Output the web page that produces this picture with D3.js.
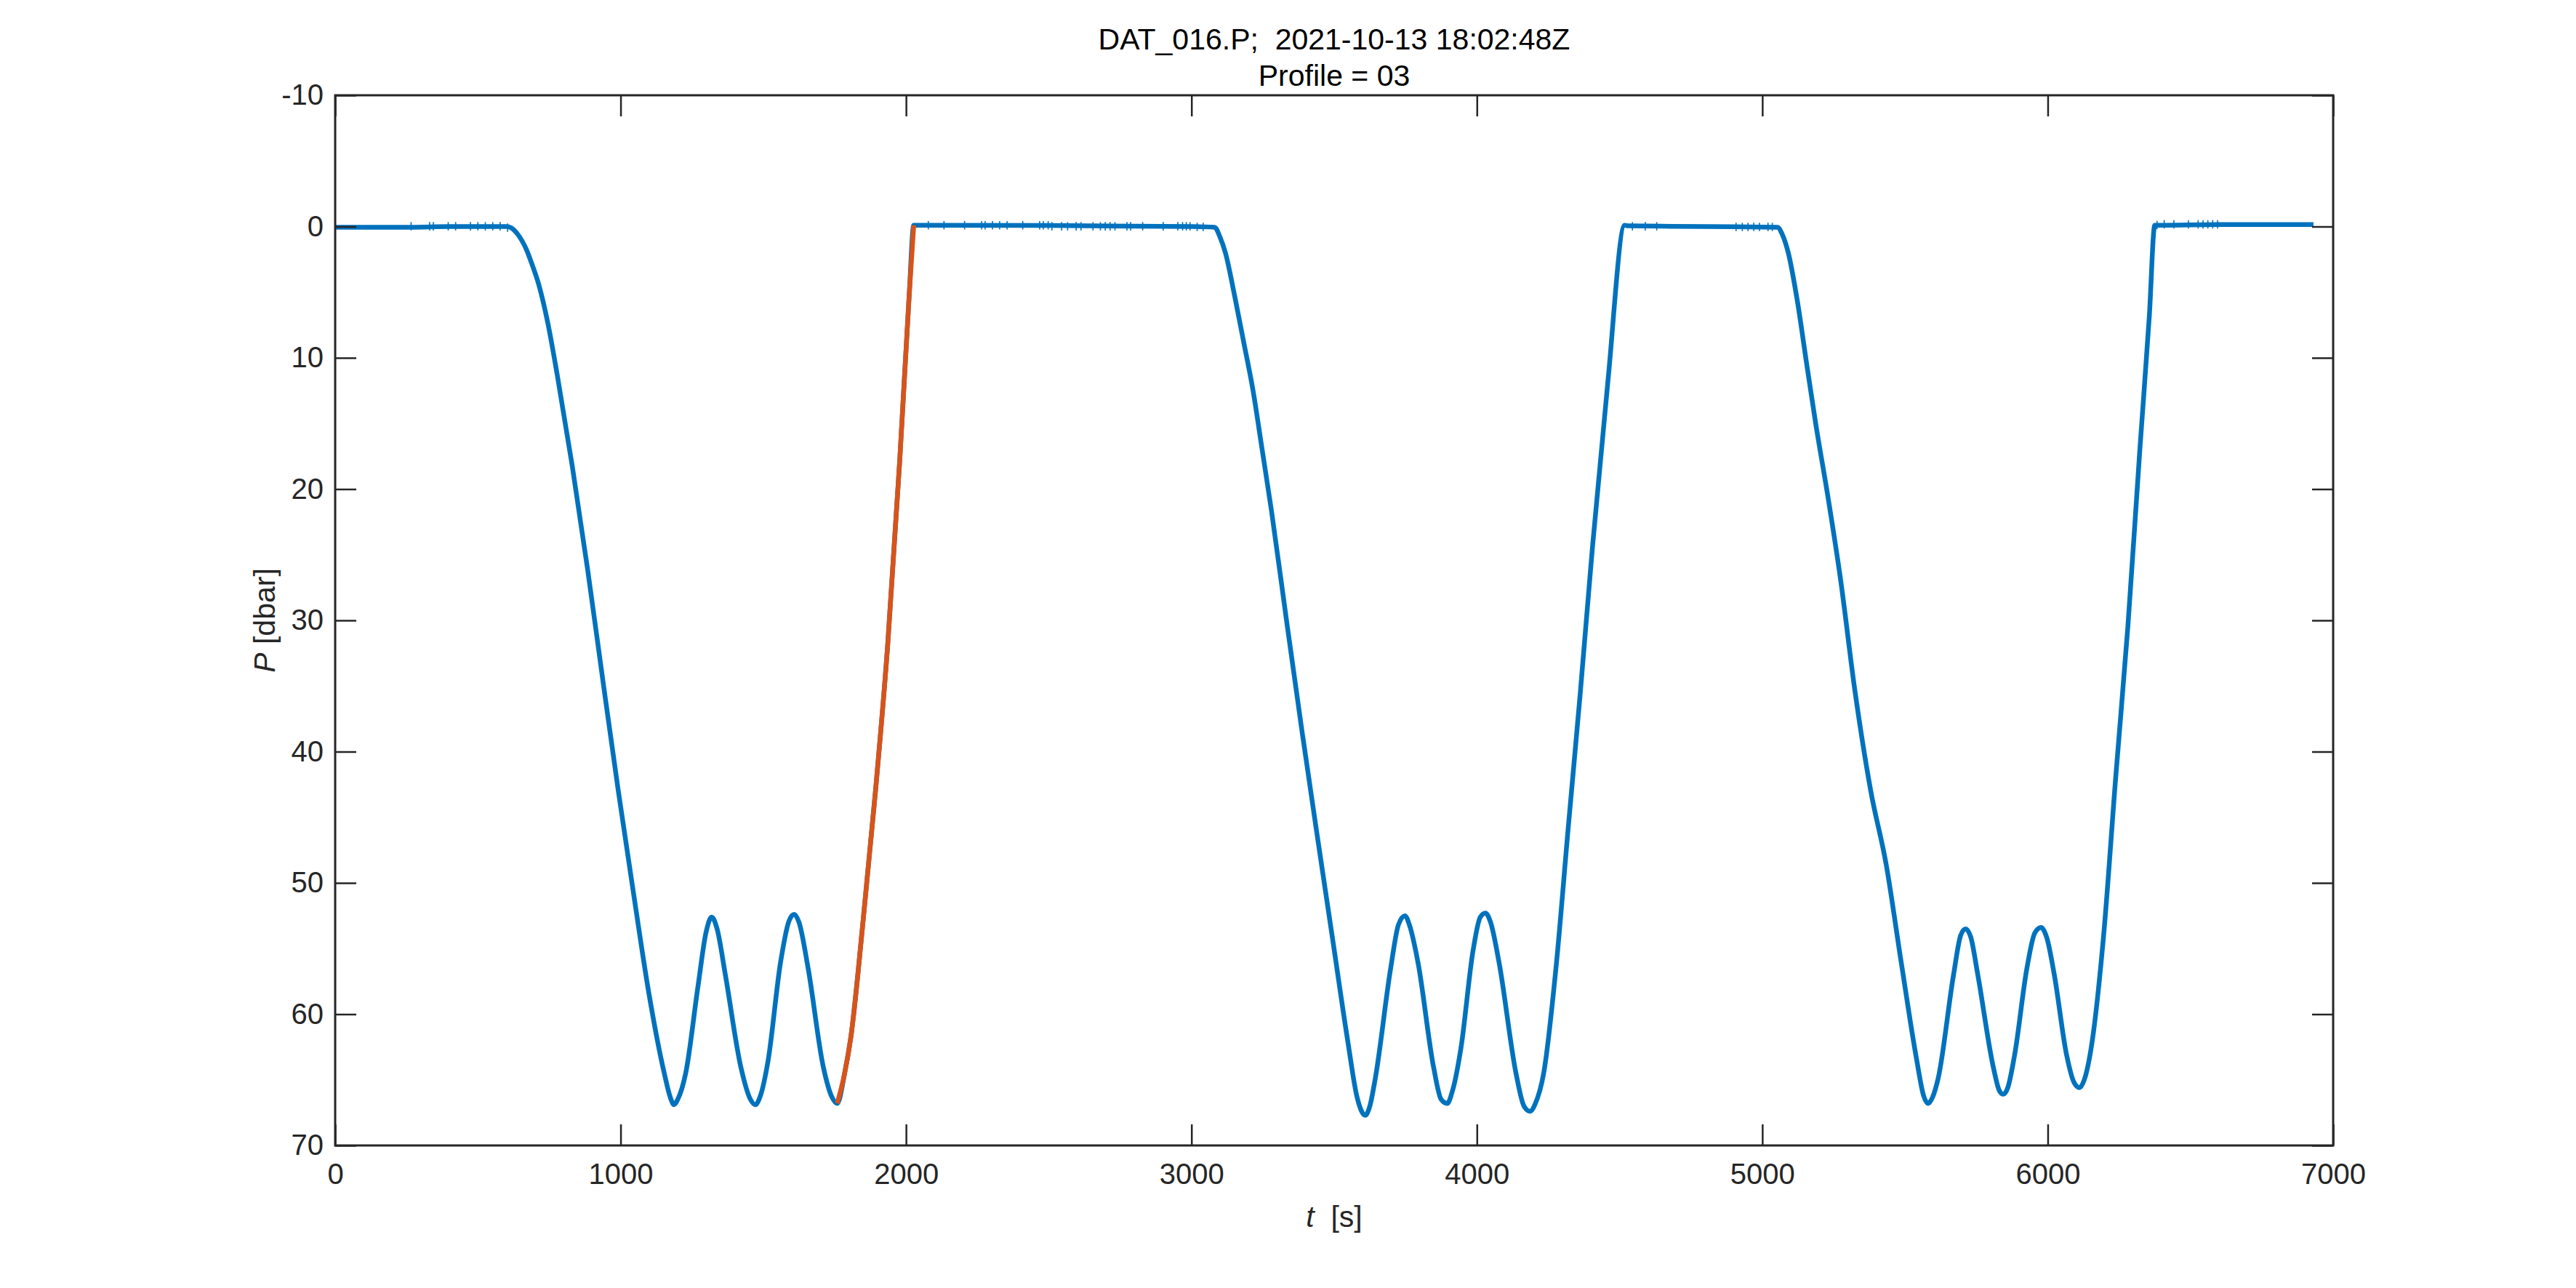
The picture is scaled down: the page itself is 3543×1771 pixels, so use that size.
<!DOCTYPE html>
<html>
<head>
<meta charset="utf-8">
<script src="https://cdn.jsdelivr.net/npm/d3@7"></script>
<style>
    body { margin: 0; background: #fff; }
    svg text { font-family: "Liberation Sans", Arial, Helvetica, sans-serif; white-space: pre; }
</style>
</head>
<body>
<script>
//time axis values [s]
var tValues = [
    0, 265, 400, 600, 617, 640, 670, 690, 713, 745, 778, 831, 885, 938, 992, 1046, 1099, 1153, 1175, 1187,
    1200, 1228, 1271, 1300, 1319, 1338, 1367, 1421, 1455, 1472, 1490, 1517, 1560, 1590, 1608, 1625, 1657,
    1710, 1740, 1759, 1785, 1807, 1850, 1893, 1936, 1978, 2011, 2027,
    2040, 2500, 3000, 3081, 3100, 3119, 3151, 3183, 3215, 3247, 3280, 3333, 3387, 3440, 3494, 3548, 3580,
    3609, 3625, 3644, 3698, 3725, 3748, 3765, 3794, 3848, 3875, 3896, 3915, 3944, 3987, 4012, 4030, 4048,
    4078, 4137, 4165, 4186, 4205, 4234, 4277, 4320, 4362, 4405, 4459, 4518,
    4530, 4800, 5053, 5070, 5091, 5123, 5155, 5187, 5230, 5273, 5326, 5380, 5434, 5487, 5541, 5565, 5581,
    5597, 5616, 5670, 5695, 5712, 5730, 5755, 5809, 5830, 5844, 5860, 5884, 5927, 5955, 5977, 5997, 6023,
    6066, 6092, 6111, 6128, 6152, 6195, 6238, 6281, 6323, 6356, 6375,
    6390, 6600, 6931
];

//pressure values [dbar], one per time value
var pValues = [
    0.05, 0.05, 0.0, 0.0, 0.1, 0.6, 1.75, 2.9, 4.4, 7.35, 11.3, 18.3, 26.2, 34.6, 43.0, 50.9, 58.4, 64.5, 66.4, 66.9,
    66.5, 64.5, 57.9, 53.7, 52.6, 53.5, 57.0, 64.0, 66.5, 66.9, 66.2, 63.5, 56.1, 52.9, 52.4, 53.0, 56.5,
    64.0, 66.3, 66.8, 64.5, 61.7, 52.8, 43.0, 31.8, 17.8, 5.25, -0.1,
    -0.1, -0.08, 0.0, 0.05, 0.8, 2.0, 5.25, 8.8, 12.4, 16.9, 21.6, 30.0, 38.4, 46.3, 54.2, 62.1, 66.3,
    67.7, 67.0, 64.9, 56.5, 53.2, 52.5, 53.3, 56.1, 64.0, 66.5, 66.8, 65.8, 62.6, 55.1, 52.6, 52.3, 53.0,
    56.1, 64.5, 67.0, 67.4, 66.8, 64.5, 56.5, 45.8, 35.6, 24.4, 11.8, -0.1,
    -0.05, 0.0, 0.05, 0.6, 2.0, 5.7, 10.4, 15.0, 20.6, 26.7, 35.6, 43.0, 48.6, 56.1, 63.5, 66.2, 66.8,
    66.3, 64.9, 57.0, 54.0, 53.5, 54.1, 57.0, 64.0, 65.8, 66.1, 65.6, 63.1, 56.5, 53.8, 53.4, 54.2, 57.0,
    63.1, 65.2, 65.6, 65.0, 62.6, 54.2, 42.0, 30.4, 16.9, 6.8, -0.1,
    -0.1, -0.15, -0.15
];

//times of the small noise spikes on the surface stretches [s]
var spikeTimes = [
    266, 331, 344, 396, 422, 474, 500, 526, 552, 578, 604,
    2078, 2133, 2205, 2265, 2277, 2303, 2328, 2354, 2409, 2468, 2481, 2498, 2511, 2545, 2566, 2596,
    2613, 2655, 2681, 2698, 2715, 2732, 2774, 2787, 2829, 2901, 2952, 2969, 2982, 2995, 3020, 3041,
    4545, 4590, 4630, 4908, 4930, 4950, 4970, 4990, 5020, 5035,
    6383, 6408, 6442, 6493, 6527, 6544, 6561, 6578, 6595
];

//highlighted profile (ascent) time window [s]
var profileStart = 1759, profileEnd = 2027;

//tick values
var xTicks = [0, 1000, 2000, 3000, 4000, 5000, 6000, 7000];
var yTicks = [-10, 0, 10, 20, 30, 40, 50, 60, 70];

var titleLines = ["DAT_016.P;  2021-10-13 18:02:48Z", "Profile = 03"];

//build point list
var points = tValues.map(function(t, i){
    return { t: t, p: pValues[i] };
});
var profilePoints = points.filter(function(d){
    return d.t >= profileStart && d.t <= profileEnd;
});

//SVG dimension variables
var w = 3543, h = 1771;
var margin = { left: 461, top: 131, right: 334, bottom: 196 };
var pw = w - margin.left - margin.right,
    ph = h - margin.top - margin.bottom;

var axisColor = "#262626";
var fontSize = 40;

var svg = d3.select("body")
    .append("svg")
    .attr("width", w)
    .attr("height", h);

var g = svg.append("g")
    .attr("transform", "translate(" + margin.left + "," + margin.top + ")");

//scales
var x = d3.scaleLinear().domain([0, 7000]).range([0, pw]);
var y = d3.scaleLinear().domain([-10, 70]).range([0, ph]);

//clip to plot area
svg.append("defs").append("clipPath")
    .attr("id", "plotClip")
    .append("rect")
    .attr("width", pw)
    .attr("height", ph);

var plot = g.append("g").attr("clip-path", "url(#plotClip)");

var line = d3.line()
    .x(function(d){ return x(d.t); })
    .y(function(d){ return y(d.p); })
    .curve(d3.curveMonotoneX);

//full pressure record
plot.append("path")
    .datum(points)
    .attr("fill", "none")
    .attr("stroke", "#0072BD")
    .attr("stroke-width", 6.5)
    .attr("stroke-linejoin", "round")
    .attr("d", line);

//noise spikes on the surface
var pAt = function(t){
    var i = d3.bisector(function(d){ return d.t; }).left(points, t);
    return points[Math.max(0, Math.min(points.length - 1, i))].p;
};
plot.selectAll(".spike")
    .data(spikeTimes)
    .enter()
    .append("line")
    .attr("class", "spike")
    .attr("x1", function(d){ return x(d); })
    .attr("x2", function(d){ return x(d); })
    .attr("y1", function(d){ return y(pAt(d) - 0.34); })
    .attr("y2", function(d){ return y(pAt(d) + 0.3); })
    .attr("stroke", "#0072BD")
    .attr("stroke-width", 1.6);

//highlighted profile
plot.append("path")
    .datum(profilePoints)
    .attr("fill", "none")
    .attr("stroke", "#D95319")
    .attr("stroke-width", 6.5)
    .attr("stroke-linejoin", "round")
    .attr("d", line);

//axes with inward ticks on all four sides
var tickLen = 29;
var plain = function(d){ return String(d); };

var styleAxis = function(sel){
    sel.select(".domain").remove();
    sel.selectAll(".tick line")
        .attr("stroke", axisColor)
        .attr("stroke-width", 2.5);
    sel.selectAll(".tick text")
        .attr("fill", axisColor)
        .style("font-size", fontSize + "px");
};

g.append("g")
    .attr("transform", "translate(0," + ph + ")")
    .call(d3.axisBottom(x).tickValues(xTicks).tickFormat(plain).tickSizeInner(-tickLen).tickSizeOuter(0).tickPadding(25))
    .call(styleAxis);

g.append("g")
    .call(d3.axisTop(x).tickValues(xTicks).tickSizeInner(-tickLen).tickSizeOuter(0).tickFormat(""))
    .call(styleAxis);

g.append("g")
    .call(d3.axisLeft(y).tickValues(yTicks).tickFormat(plain).tickSizeInner(-tickLen).tickSizeOuter(0).tickPadding(16))
    .call(styleAxis);

g.append("g")
    .attr("transform", "translate(" + pw + ",0)")
    .call(d3.axisRight(y).tickValues(yTicks).tickSizeInner(-tickLen).tickSizeOuter(0).tickFormat(""))
    .call(styleAxis);

//box
g.append("rect")
    .attr("width", pw)
    .attr("height", ph)
    .attr("fill", "none")
    .attr("stroke", axisColor)
    .attr("stroke-width", 3);

//title
svg.selectAll(".title")
    .data(titleLines)
    .enter()
    .append("text")
    .attr("class", "title")
    .attr("x", margin.left + pw / 2)
    .attr("y", function(d, i){ return 68 + i * 50; })
    .attr("text-anchor", "middle")
    .attr("fill", "#000")
    .style("font-size", (fontSize + 1) + "px")
    .text(function(d){ return d; });

//x label
var xLabel = svg.append("text")
    .attr("x", margin.left + pw / 2)
    .attr("y", 1687)
    .attr("text-anchor", "middle")
    .attr("fill", axisColor)
    .style("font-size", (fontSize + 1) + "px");
xLabel.append("tspan").style("font-style", "italic").text("t");
xLabel.append("tspan").text("  [s]");

//y label
var yLabel = svg.append("text")
    .attr("transform", "translate(378," + (margin.top + ph / 2) + ") rotate(-90)")
    .attr("text-anchor", "middle")
    .attr("fill", axisColor)
    .style("font-size", (fontSize + 1) + "px");
yLabel.append("tspan").style("font-style", "italic").text("P");
yLabel.append("tspan").text(" [dbar]");
</script>
</body>
</html>
